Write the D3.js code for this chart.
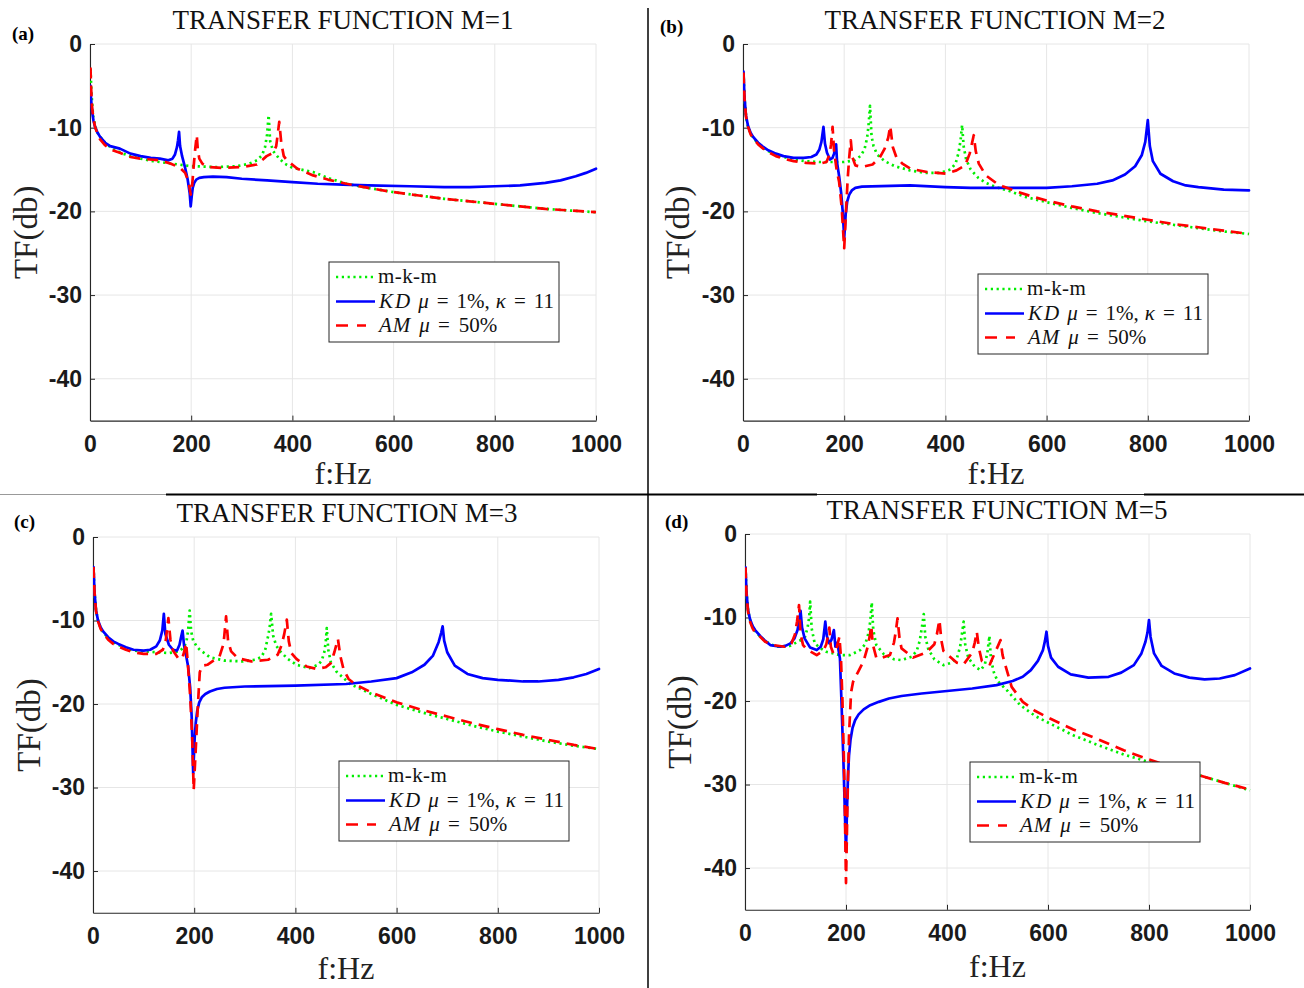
<!DOCTYPE html>
<html><head><meta charset="utf-8">
<script src="https://cdn.jsdelivr.net/npm/d3@7"></script>
<style>body{margin:0;background:#fff}</style>
</head><body><svg id="chart" width="1304" height="988"></svg>
<script>
// ---------------- data ----------------
const xTicks = [0, 200, 400, 600, 800, 1000];
const yTicks = [0, -10, -20, -30, -40];
const titles = ["TRANSFER FUNCTION M=1", "TRANSFER FUNCTION M=2", "TRANSFER FUNCTION M=3", "TRANSFER FUNCTION M=5"];
const panelTags = ["(a)", "(b)", "(c)", "(d)"];
const seriesNames = ["m-k-m", "KD", "AM"];

// [f (Hz), TF (dB)]
const aMkm = [[1,-3],[3,-6],[6,-8.5],[10,-9.8],[15,-10.6],[20,-11.1],[30,-11.8],[40,-12.3],[50,-12.7],[65,-13.1],[80,-13.4],[100,-13.7],[125,-14],[150,-14.2],[175,-14.4],[200,-14.6],[250,-14.7],[290,-14.6],[315,-14.3],[330,-13.9],[340,-13.3],[346,-12.3],[350,-10.8],[353,-8.5],[356,-11.6],[362,-12.8],[374,-13.7],[385,-14.3],[400,-14.8],[441,-15.3],[470,-16],[507,-16.7],[550,-17.2],[600,-17.7],[650,-18.1],[700,-18.5],[750,-18.8],[800,-19.1],[850,-19.4],[900,-19.7],[950,-19.9],[1000,-20.1]];
const aKd = [[1,-5],[2,-6.5],[4,-8],[7,-9.2],[10,-9.9],[15,-10.6],[20,-11.1],[30,-11.8],[40,-12.2],[59,-12.5],[80,-13.1],[100,-13.4],[120,-13.6],[138,-13.7],[155,-13.9],[163,-13.7],[168,-13.2],[172,-12.3],[174,-11.5],[176,-10.5],[178,-12.2],[182,-13.4],[188,-14.8],[193,-16.2],[197,-17.8],[199,-19.4],[201,-18.2],[203,-17.2],[206,-16.6],[210,-16.2],[216,-16],[225,-15.9],[243,-15.85],[270,-15.9],[300,-16.1],[350,-16.3],[400,-16.5],[450,-16.7],[500,-16.8],[550,-16.9],[632,-17],[700,-17.1],[750,-17.1],[800,-17.0],[850,-16.9],[900,-16.6],[930,-16.3],[960,-15.8],[980,-15.4],[1000,-14.9]];
const aAm = [[1,-2.8],[2,-5],[4,-7.5],[7,-9],[10,-9.9],[15,-10.8],[20,-11.4],[30,-12.1],[40,-12.6],[59,-13],[80,-13.5],[100,-13.7],[138,-13.9],[160,-14.3],[178,-14.8],[188,-15.4],[195,-16.5],[199,-18],[202,-16.8],[205,-14.5],[208,-12.5],[211,-10.9],[213,-12.6],[216,-13.7],[222,-14.3],[235,-14.7],[260,-14.8],[300,-14.7],[330,-14.4],[349,-13.4],[362,-13],[368,-12.2],[371,-10.8],[374,-9.3],[378,-11.8],[383,-13.4],[389,-13.9],[410,-14.9],[441,-15.7],[470,-16.2],[507,-16.7],[550,-17.2],[600,-17.7],[650,-18.1],[700,-18.5],[750,-18.8],[800,-19.1],[850,-19.4],[900,-19.7],[950,-19.9],[1000,-20.1]];

const bMkm = [[1,-3.4],[3,-6.5],[6,-8.7],[10,-9.9],[15,-10.7],[20,-11.2],[30,-11.9],[40,-12.4],[50,-12.8],[65,-13.2],[80,-13.5],[100,-13.8],[125,-14],[150,-14.1],[180,-14.1],[200,-14.1],[220,-13.9],[232,-13.4],[240,-12.6],[245,-11.3],[248,-9.8],[251,-7.4],[254,-11],[258,-12.2],[265,-13.2],[280,-14],[300,-14.6],[330,-15.1],[360,-15.4],[390,-15.4],[410,-15],[420,-14.3],[426,-13],[430,-11.5],[433,-9.7],[436,-12.2],[441,-13.8],[450,-15],[465,-16],[480,-16.6],[500,-17.1],[528,-17.6],[560,-18.3],[600,-18.9],[650,-19.6],[700,-20.2],[750,-20.7],[800,-21.2],[850,-21.6],[900,-22],[950,-22.4],[1000,-22.7]];
const bKd = [[1,-3.3],[3,-6.4],[6,-8.6],[10,-9.8],[15,-10.6],[20,-11.1],[30,-11.8],[40,-12.3],[50,-12.7],[65,-13.1],[80,-13.4],[100,-13.6],[120,-13.6],[135,-13.5],[145,-13.2],[151,-12.6],[155,-11.7],[159,-9.9],[162,-11.9],[166,-13],[172,-13.8],[177,-13.6],[180,-13.1],[182,-12.5],[184,-12],[186,-14.2],[190,-15.8],[194,-17.8],[197,-20],[200,-23.2],[203,-20.3],[206,-18.8],[210,-18],[215,-17.5],[222,-17.2],[235,-17.05],[330,-16.9],[400,-17.1],[450,-17.2],[527,-17.2],[600,-17.2],[650,-17],[700,-16.7],[730,-16.3],[755,-15.6],[775,-14.6],[788,-13.3],[795,-11.7],[800,-9.1],[804,-12.2],[810,-14],[825,-15.5],[850,-16.4],[875,-16.9],[900,-17.1],[950,-17.4],[1000,-17.5]];
const bAm = [[1,-3.4],[3,-6.5],[6,-8.7],[10,-9.9],[15,-10.8],[20,-11.3],[30,-12],[40,-12.5],[50,-12.9],[65,-13.4],[80,-13.7],[100,-14],[125,-14.2],[152,-14.3],[165,-14.1],[171,-13.2],[174,-12],[177,-9.9],[180,-12.8],[185,-15],[190,-16.5],[195,-19.5],[200,-24.4],[204,-19.5],[207,-16],[210,-13.5],[213,-11.5],[216,-13.5],[222,-14.5],[235,-14.7],[256,-14.4],[270,-13.6],[280,-12.5],[287,-11.2],[291,-9.8],[296,-12.3],[303,-13.5],[315,-14.3],[331,-14.9],[364,-15.3],[402,-15.5],[422,-15.1],[439,-14.5],[448,-13.1],[452,-12],[456,-10.9],[460,-12.8],[466,-14.3],[480,-15.7],[500,-16.6],[513,-17],[540,-17.6],[570,-18.2],[600,-18.7],[650,-19.4],[700,-20],[750,-20.5],[800,-21],[850,-21.5],[900,-21.9],[950,-22.3],[1000,-22.7]];

const cMkm = [[1,-3.6],[3,-6.6],[6,-8.8],[10,-10],[15,-10.9],[20,-11.4],[30,-12.1],[40,-12.6],[50,-12.9],[65,-13.3],[80,-13.6],[100,-13.7],[125,-13.8],[150,-13.9],[170,-13.7],[180,-13.2],[185,-12.4],[188,-11.2],[191,-8.8],[194,-11.3],[198,-12.4],[205,-13.1],[211,-13.5],[231,-14.4],[260,-14.8],[297,-14.9],[320,-14.7],[332,-14.4],[340,-13.6],[346,-11.9],[349,-10.9],[352,-9.2],[356,-11.8],[362,-13],[370,-13.7],[385,-14.6],[402,-15.3],[428,-15.7],[445,-15.3],[452,-14.8],[457,-13.8],[460,-12.6],[462,-10.9],[465,-13.5],[470,-15],[481,-16.1],[508,-17.6],[550,-18.8],[600,-20.1],[650,-21],[700,-21.8],[750,-22.6],[800,-23.3],[850,-23.9],[900,-24.5],[950,-25],[1000,-25.4]];
const cKd = [[1,-3.6],[3,-6.6],[6,-8.8],[10,-10],[15,-10.8],[20,-11.3],[30,-12],[40,-12.5],[50,-12.8],[65,-13.2],[80,-13.5],[100,-13.6],[113,-13.5],[125,-13.1],[132,-12.4],[137,-11.2],[140,-9.2],[143,-11.6],[150,-12.9],[158,-13.5],[166,-13.6],[171,-12.9],[174,-12],[177,-11.2],[180,-13],[184,-14.2],[188,-15.5],[192,-18],[195,-21.5],[198,-28.3],[201,-24],[203,-22.3],[206,-20.8],[210,-19.8],[215,-19.2],[222,-18.8],[231,-18.5],[245,-18.2],[260,-18.05],[300,-17.9],[400,-17.8],[500,-17.6],[550,-17.3],[600,-16.9],[630,-16.2],[655,-15.3],[672,-14.2],[683,-12.6],[688,-11.5],[691,-10.7],[694,-12.4],[700,-13.8],[715,-15.4],[740,-16.4],[770,-16.9],[800,-17.1],[850,-17.3],[880,-17.3],[920,-17.1],[950,-16.8],[975,-16.4],[1000,-15.8]];
const cAm = [[1,-3.6],[3,-6.6],[6,-8.9],[10,-10.1],[15,-11],[20,-11.5],[30,-12.3],[40,-12.8],[50,-13.1],[65,-13.5],[80,-13.8],[100,-14],[125,-14],[138,-13.5],[144,-12.3],[149,-9.7],[153,-12.3],[158,-13.6],[168,-14.5],[176,-14.6],[180,-13.8],[184,-12.7],[187,-14.8],[192,-19],[196,-24],[199,-30.3],[203,-25.5],[207,-20.5],[211,-16.2],[216,-15.4],[226,-15.3],[250,-14.3],[258,-12.8],[263,-9.5],[267,-12.5],[273,-13.7],[286,-14.5],[313,-14.9],[346,-14.7],[365,-14.1],[373,-12.9],[378,-11.6],[383,-9.9],[387,-12.5],[392,-13.9],[402,-14.6],[422,-15.5],[442,-15.8],[460,-15.6],[470,-15.1],[477,-13.8],[484,-12.2],[489,-14.3],[495,-15.8],[505,-17],[520,-17.7],[550,-18.6],[600,-19.8],[650,-20.7],[700,-21.5],[750,-22.3],[800,-23],[850,-23.7],[900,-24.3],[950,-24.9],[1000,-25.4]];

const dMkm = [[1,-4],[3,-7],[6,-9.1],[10,-10.3],[15,-11.1],[20,-11.6],[30,-12.3],[40,-12.8],[50,-13.2],[65,-13.5],[89,-13.4],[108,-12.8],[119,-12.3],[124,-11.2],[127,-10],[129,-8.1],[132,-11.3],[138,-13.1],[150,-13.7],[161,-14.1],[188,-14.5],[208,-14.5],[228,-13.9],[238,-13.2],[244,-12],[248,-10.5],[251,-8.2],[254,-11.5],[260,-13.3],[275,-14.4],[295,-15],[310,-15.1],[330,-14.7],[340,-14],[346,-12.8],[350,-11.3],[354,-9.6],[357,-12.3],[363,-13.8],[375,-15],[393,-15.7],[410,-15.4],[420,-14.8],[426,-13.5],[430,-11.8],[433,-10.5],[436,-13.2],[442,-14.8],[455,-15.9],[467,-16.3],[475,-15.6],[480,-14.2],[484,-12.2],[487,-15],[493,-16.6],[500,-17.6],[520,-18.8],[545,-20.5],[575,-21.8],[604,-22.7],[650,-24.1],[700,-25.3],[750,-26.4],[800,-27.3],[850,-28.1],[900,-28.9],[950,-29.8],[1000,-30.7]];
const dKd = [[1,-4],[3,-7],[6,-9.1],[10,-10.2],[15,-11],[20,-11.5],[30,-12.2],[40,-12.8],[50,-13.3],[70,-13.5],[80,-13.4],[90,-13.1],[98,-12.5],[104,-11.5],[108,-10.2],[110,-9.2],[113,-11.2],[118,-12.5],[129,-13.6],[142,-13.9],[150,-13.5],[155,-12.6],[159,-10.5],[162,-12.2],[167,-13.1],[171,-12.7],[174,-12],[176,-11.5],[179,-13.5],[183,-13],[186,-14.2],[188,-14.9],[191,-20],[195,-27.4],[200,-38],[202,-33],[204,-29],[206,-26.5],[209,-24.6],[213,-23.2],[218,-22.3],[225,-21.6],[235,-21],[248,-20.5],[265,-20.1],[285,-19.7],[310,-19.4],[350,-19.1],[400,-18.8],[450,-18.5],[498,-18.1],[530,-17.6],[550,-17.1],[566,-16.3],[580,-15.2],[590,-13.9],[594,-12.8],[597,-11.7],[600,-13.4],[606,-14.8],[620,-15.9],[645,-16.8],[680,-17.2],[720,-17.1],[745,-16.6],[770,-15.7],[785,-14.3],[793,-12.9],[797,-11.8],[800,-10.3],[803,-12.3],[810,-14.3],[825,-15.8],[850,-16.7],[880,-17.2],[910,-17.4],[940,-17.3],[970,-16.9],[1000,-16.1]];
const dAm = [[1,-4],[3,-7.2],[6,-9.3],[10,-10.5],[15,-11.3],[20,-11.8],[30,-12.3],[40,-12.9],[56,-13.3],[79,-13.5],[92,-13.1],[99,-12],[103,-10.5],[107,-8.5],[110,-12],[115,-13.3],[122,-13.8],[142,-14.5],[155,-14],[161,-13.2],[165,-12],[167,-11.2],[170,-13.5],[175,-14.3],[180,-14],[184,-13],[187,-12.3],[190,-14.8],[193,-20],[197,-30],[200,-41.8],[203,-32],[206,-24],[210,-19],[214,-17.7],[224,-16.5],[235,-15.2],[243,-13.5],[247,-12.2],[250,-11],[253,-13.2],[260,-14.8],[268,-14.9],[287,-14.5],[295,-13],[299,-11.5],[302,-10.1],[306,-12.5],[310,-13.7],[333,-14.8],[359,-14.2],[375,-13.2],[380,-12],[385,-10.3],[389,-12.8],[393,-14],[419,-15.4],[433,-15.6],[450,-14.2],[455,-13],[459,-11.7],[463,-13.6],[469,-15.2],[485,-15.6],[495,-14.2],[501,-13.4],[506,-12.7],[510,-14.5],[515,-15.6],[528,-18.3],[550,-20.1],[575,-21.2],[604,-22.1],[650,-23.4],[700,-24.6],[750,-25.9],[800,-27],[850,-28],[900,-28.9],[950,-29.8],[1000,-30.6]];

const panelSeries = [[aMkm, aKd, aAm], [bMkm, bKd, bAm], [cMkm, cKd, cAm], [dMkm, dKd, dAm]];

// ---------------- layout / style ----------------
const layout = [
  {x0: 90,  x1: 596,  yTop: 44,  yBot: 420.6, titleX: 343, titleY: 29,  tagX: 12,  tagY: 40,  ylabX: 37,  xlabY: 484, legX: 329, legY: 262},
  {x0: 743, x1: 1249, yTop: 44,  yBot: 420.6, titleX: 995, titleY: 29,  tagX: 660, tagY: 33,  ylabX: 689, xlabY: 484, legX: 978, legY: 274},
  {x0: 93,  x1: 599,  yTop: 537, yBot: 912.8, titleX: 347, titleY: 522, tagX: 14,  tagY: 528, ylabX: 40,  xlabY: 979, legX: 339, legY: 761},
  {x0: 745, x1: 1250, yTop: 534, yBot: 909.8, titleX: 997, titleY: 519, tagX: 665, tagY: 528, ylabX: 691, xlabY: 977, legX: 970, legY: 762}
];
const styles = [
  {color: "#00ee00", dash: "2.2,3.6", legDash: "2.2,3.6", width: 2.7, cap: "butt"},
  {color: "#0000ff", dash: null, legDash: null, width: 2.7, cap: "round"},
  {color: "#ff0000", dash: "11,7", legDash: "12,9", width: 2.7, cap: "butt"}
];
const serif = "'Liberation Serif', 'Times New Roman', serif";
const sans = "'Liberation Sans', Arial, sans-serif";

const svg = d3.select("#chart");
svg.append("rect").attr("width", 1304).attr("height", 988).attr("fill", "#fff");

layout.forEach((L, i) => {
  const g = svg.append("g");
  const x = d3.scaleLinear().domain([0, 1000]).range([L.x0, L.x1]);
  const y = d3.scaleLinear().domain([-45, 0]).range([L.yBot, L.yTop]);

  // grid
  g.append("g").selectAll("line").data(xTicks).join("line")
    .attr("x1", d => x(d)).attr("x2", d => x(d)).attr("y1", L.yTop).attr("y2", L.yBot)
    .attr("stroke", "#e6e6e6").attr("stroke-width", 1);
  g.append("g").selectAll("line").data(yTicks).join("line")
    .attr("x1", L.x0).attr("x2", L.x1).attr("y1", d => y(d)).attr("y2", d => y(d))
    .attr("stroke", "#e6e6e6").attr("stroke-width", 1);

  // axes
  const ax = g.append("g").attr("transform", `translate(0,${L.yBot})`)
    .call(d3.axisBottom(x).tickValues(xTicks).tickFormat(d => String(d)).tickSizeInner(-5).tickSizeOuter(0).tickPadding(15));
  const ay = g.append("g").attr("transform", `translate(${L.x0},0)`)
    .call(d3.axisLeft(y).tickValues(yTicks).tickFormat(d => String(d)).tickSizeInner(-5).tickSizeOuter(0).tickPadding(8));
  [ax, ay].forEach(a => {
    a.select(".domain").attr("stroke", "#262626").attr("stroke-width", 1.1);
    a.selectAll(".tick line").attr("stroke", "#262626");
    a.selectAll(".tick text").attr("fill", "#1a1a1a").style("font-family", sans)
      .style("font-size", "23px").style("font-weight", "bold");
  });

  // clip
  const cid = "clip" + i;
  g.append("clipPath").attr("id", cid).append("rect")
    .attr("x", L.x0).attr("y", L.yTop - 4).attr("width", L.x1 - L.x0 + 2).attr("height", L.yBot - L.yTop + 4);

  const line = d3.line().x(d => x(d[0])).y(d => y(d[1]));
  panelSeries[i].forEach((s, k) => {
    const st = styles[k];
    g.append("path").datum(s).attr("d", line).attr("clip-path", `url(#${cid})`)
      .attr("fill", "none").attr("stroke", st.color).attr("stroke-width", st.width)
      .attr("stroke-dasharray", st.dash).attr("stroke-linecap", st.cap).attr("stroke-linejoin", "round");
  });

  // titles and labels
  g.append("text").attr("x", L.titleX).attr("y", L.titleY).attr("text-anchor", "middle")
    .style("font-family", serif).style("font-size", "27px").attr("fill", "#111").text(titles[i]);
  g.append("text").attr("x", L.tagX).attr("y", L.tagY)
    .style("font-family", serif).style("font-size", "19px").style("font-weight", "bold").attr("fill", "#000").text(panelTags[i]);
  g.append("text").attr("x", (L.x0 + L.x1) / 2).attr("y", L.xlabY).attr("text-anchor", "middle")
    .style("font-family", serif).style("font-size", "32px").attr("fill", "#222").text("f:Hz");
  g.append("text").attr("transform", `translate(${L.ylabX},${(L.yTop + L.yBot) / 2}) rotate(-90)`)
    .attr("text-anchor", "middle").style("font-family", serif).style("font-size", "33px").attr("fill", "#222").text("TF(db)");

  // legend
  const lg = g.append("g").attr("transform", `translate(${L.legX},${L.legY})`);
  lg.append("rect").attr("width", 230).attr("height", 80).attr("fill", "#fff").attr("stroke", "#262626").attr("stroke-width", 1);
  const rows = [15, 39.5, 63.5];
  const lineEnds = [44, 46, 37];
  rows.forEach((ry, k) => {
    const st = styles[k];
    lg.append("line").attr("x1", 7).attr("x2", lineEnds[k]).attr("y1", ry).attr("y2", ry)
      .attr("stroke", st.color).attr("stroke-width", st.width).attr("stroke-dasharray", st.legDash);
  });
  const fs = "21px";
  const t0 = lg.append("text").attr("x", 49).attr("y", rows[0] + 6).style("font-family", serif).style("font-size", fs)
    .style("letter-spacing", "0.4px").attr("fill", "#111");
  t0.text(seriesNames[0]);
  const t1 = lg.append("text").attr("x", 50).attr("y", rows[1] + 6).style("font-family", serif).style("font-size", fs).attr("fill", "#111");
  t1.append("tspan").style("font-style", "italic").text("K");
  t1.append("tspan").attr("dx", 2).style("font-style", "italic").text("D");
  t1.append("tspan").attr("dx", 8).style("font-style", "italic").text("μ");
  t1.append("tspan").attr("dx", 8).text("=");
  t1.append("tspan").attr("dx", 8).text("1%,");
  t1.append("tspan").attr("dx", 6).style("font-style", "italic").text("κ");
  t1.append("tspan").attr("dx", 8).text("=");
  t1.append("tspan").attr("dx", 8).text("11");
  const t2 = lg.append("text").attr("x", 50).attr("y", rows[2] + 6).style("font-family", serif).style("font-size", fs).attr("fill", "#111");
  t2.append("tspan").style("font-style", "italic").text("A");
  t2.append("tspan").attr("dx", 1).style("font-style", "italic").text("M");
  t2.append("tspan").attr("dx", 9).style("font-style", "italic").text("μ");
  t2.append("tspan").attr("dx", 8).text("=");
  t2.append("tspan").attr("dx", 9).text("50%");
});

// separators
svg.append("line").attr("x1", 648).attr("x2", 648).attr("y1", 8).attr("y2", 988).attr("stroke", "#000").attr("stroke-width", 1.5);
const sep = [[0, 166, "#999", 1], [166, 817, "#000", 2], [817, 1144, "#222", 1.2], [1144, 1304, "#000", 2]];
svg.selectAll(".sep").data(sep).join("line").attr("class", "sep")
  .attr("x1", d => d[0]).attr("x2", d => d[1]).attr("y1", 494.5).attr("y2", 494.5)
  .attr("stroke", d => d[2]).attr("stroke-width", d => d[3]);
</script>
</body></html>
